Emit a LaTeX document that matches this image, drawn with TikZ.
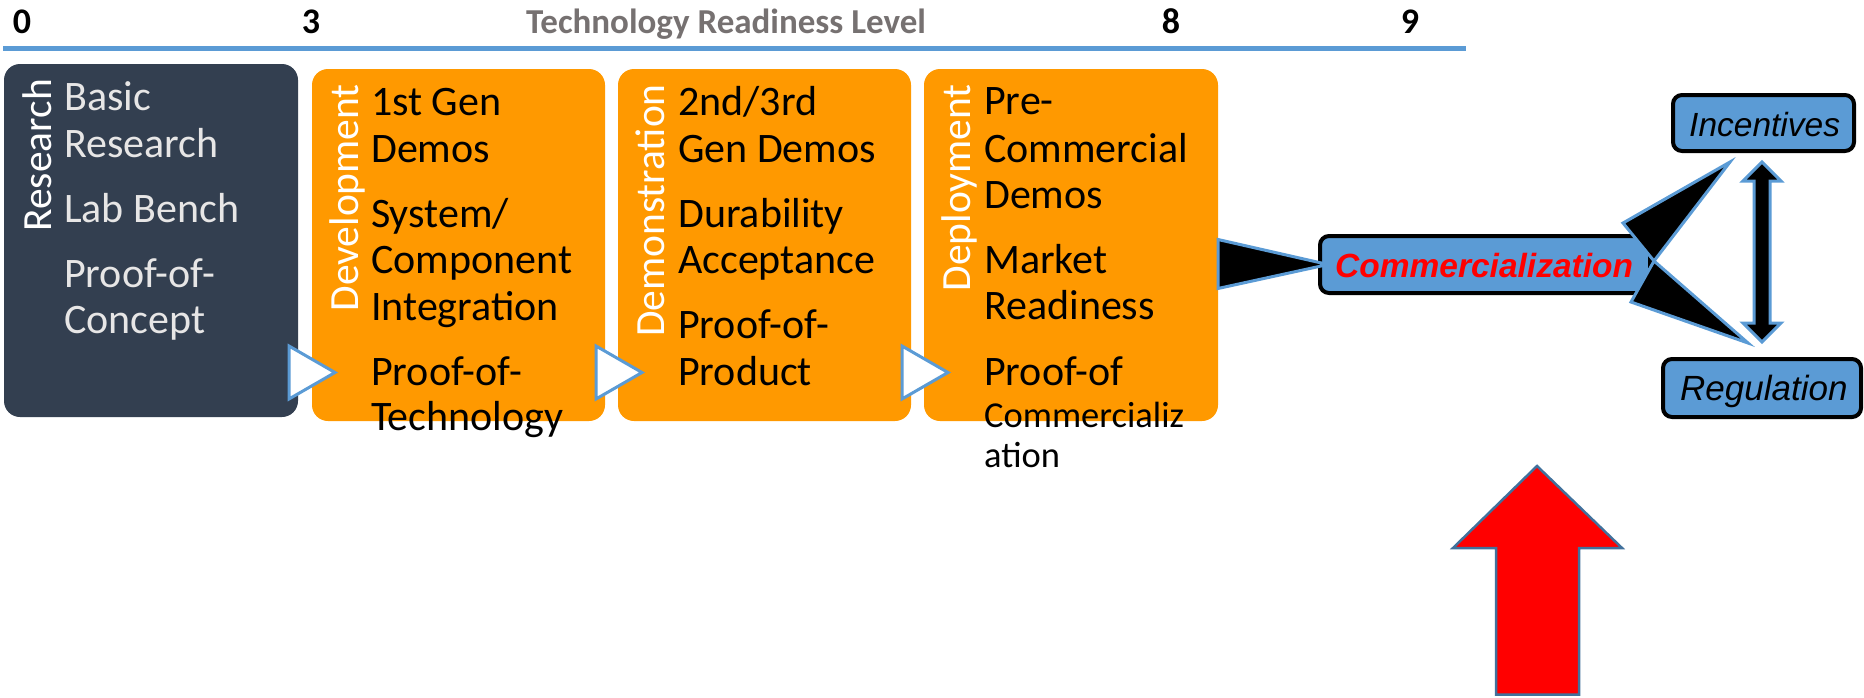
\documentclass[tikz,border=0pt]{standalone}
\usepackage{fontspec}
\setmainfont{Carlito}
\newfontfamily\arialf{Liberation Sans}
\usetikzlibrary{calc}
\definecolor{slate}{RGB}{51,63,80}
\definecolor{orng}{RGB}{255,153,0}
\definecolor{mblue}{RGB}{91,155,213}
\definecolor{tgrey}{RGB}{118,113,113}
\definecolor{ltxt}{RGB}{231,230,230}
\definecolor{arrowedge}{RGB}{65,113,156}
\begin{document}
\begin{tikzpicture}[x=1pt,y=-1pt,
  phase/.style={anchor=north west, inner sep=0pt, outer sep=0pt, rounded corners=16pt, minimum height=352pt},
  lab/.style={rotate=90, anchor=base east, inner sep=0pt, text=white, font=\fontsize{41.5}{47}\selectfont},
  item/.style={anchor=base west, inner sep=0pt, font=\fontsize{42}{47}\selectfont},
  smallitem/.style={anchor=base west, inner sep=0pt, font=\fontsize{36.5}{40}\selectfont},
  tri/.style={fill=white, draw=mblue, line width=3pt, line join=miter},
  blk/.style={fill=black, draw=mblue, line width=3pt, line join=miter},
  bluebox/.style={fill=mblue, draw=black, line width=4pt, rounded corners=9pt, inner sep=0pt, outer sep=0pt, anchor=north west},
  lvl/.style={font=\bfseries\fontsize{36}{40}\selectfont, anchor=base, inner sep=0pt},
  bluetext/.style={anchor=base west, inner sep=0pt}
]
\useasboundingbox (0,0) rectangle (1864,697);

% top scale
\node[lvl] (l0) at (22,33) {0};
\node[lvl] (l3) at (311,33) {3};
\node[lvl] (l8) at (1171,33) {8};
\node[lvl] (l9) at (1410,33) {9};
\node[lvl, text=tgrey, font=\bfseries\fontsize{35}{40}\selectfont] (trl) at (726,33) {Technology Readiness Level};
\draw[mblue, line width=5pt] (3,48) -- (1466,48);

% phase boxes
\node[phase, fill=slate, minimum width=294pt, minimum height=353pt] (research) at (4,64) {};
\node[phase, fill=orng, minimum width=293pt] (develop) at (312,69) {};
\node[phase, fill=orng, minimum width=293pt] (demo) at (618,69) {};
\node[phase, fill=orng, minimum width=294pt] (deploy) at (924,69) {};

% rotated labels
\node[lab] (researchlab) at (51,79) {Research};
\node[lab] (devlab) at (358,84) {Development};
\node[lab] (demolab) at (664,84) {Demonstration};
\node[lab] (deplab) at (970,84) {Deployment};

% research items
\node[item, text=ltxt] (r1) at (64,110) {Basic};
\node[item, text=ltxt] (r2) at (64,157) {Research};
\node[item, text=ltxt] (r3) at (64,222) {Lab Bench};
\node[item, text=ltxt] (r4) at (64,287) {Proof-of-};
\node[item, text=ltxt] (r5) at (64,333) {Concept};

% development items
\node[item] (d1) at (371,115) {1st Gen};
\node[item] (d2) at (371,162) {Demos};
\node[item] (d3) at (371,227) {System/};
\node[item] (d4) at (371,273) {Component};
\node[item] (d5) at (371,320) {Integration};
\node[item] (d6) at (371,385) {Proof-of-};
\node[item] (d7) at (371,430) {Technology};

% demonstration items
\node[item] (m1) at (678,115) {2nd/3rd};
\node[item] (m2) at (678,162) {Gen Demos};
\node[item] (m3) at (678,227) {Durability};
\node[item] (m4) at (678,273) {Acceptance};
\node[item] (m5) at (678,338) {Proof-of-};
\node[item] (m6) at (678,385) {Product};

% deployment items
\node[item] (p1) at (984,114) {Pre-};
\node[item] (p2) at (984,162) {Commercial};
\node[item] (p3) at (984,208) {Demos};
\node[item] (p4) at (984,273) {Market};
\node[item] (p5) at (984,319) {Readiness};
\node[item] (p6) at (984,385) {Proof-of};
\node[smallitem] (p7) at (984,427) {Commercializ};
\node[smallitem] (p8) at (984,467) {ation};

% small chevrons between phases
\draw[tri] ($(research.east |- 0,346)+(-9,0)$) -- ++(0,53) -- ++(46,-26.5) -- cycle;
\draw[tri] ($(develop.east |- 0,346)+(-9,0)$) -- ++(0,53) -- ++(46,-26.5) -- cycle;
\draw[tri] ($(demo.east |- 0,346)+(-9,0)$) -- ++(0,53) -- ++(46,-26.5) -- cycle;

% right-hand boxes
\node[bluebox, minimum width=330pt, minimum height=57pt] (comm) at (1320,236) {};
\node[bluetext, text=red, font=\arialf\bfseries\itshape\fontsize{33.5}{36}\selectfont] (commtext) at (1335,277) {Commercialization};
\node[bluebox, minimum width=181pt, minimum height=56pt] (incentives) at (1673,95) {};
\node[bluetext, font=\arialf\itshape\fontsize{33.5}{36}\selectfont] (inctext) at (1689,136) {Incentives};
\node[bluebox, minimum width=198pt, minimum height=58pt] (regulation) at (1663,359) {};
\node[bluetext, font=\arialf\itshape\fontsize{35}{38}\selectfont] (regtext) at (1680,400) {Regulation};

% deployment -> commercialization
\draw[blk] ($(deploy.east |- comm.west)+(0,-25)$) -- ($(comm.west)+(8,0)$) -- ($(deploy.east |- comm.west)+(0,24)$) -- cycle;

% commercialization -> incentives / regulation
\coordinate (ua) at ($(comm.east)+(-27,-41.5)$);
\coordinate (ub) at ($(comm.east)+(4,-3.5)$);
\coordinate (la) at ($(comm.east)+(-19,37.5)$);
\coordinate (ut) at ($(incentives.south)+(-33.5,11)$);
\coordinate (lt) at ($(regulation.north)+(-14,-16)$);
\draw[blk] (ua) -- (ut) -- (ub) -- cycle;
\draw[blk] (ub) -- (lt) -- (la) -- cycle;

% double arrow incentives <-> regulation
\coordinate (dt) at ($(incentives.south)+(-1.5,11)$);
\coordinate (db) at ($(regulation.north)+(0,-17)$);
\draw[blk] (dt) -- ++(19,19) -- ++(-11,0) -- ($(db)+(8,-19)$) -- ++(11,0) -- (db)
  -- ++(-19,-19) -- ++(11,0) -- ($(dt)+(-8,19)$) -- ++(-11,0) -- cycle;

% red up arrow
\draw[fill=red, draw=arrowedge, line width=2.5pt, line join=miter]
  (1537,466) -- (1622,548) -- (1579,548) -- (1579,694.5) -- (1496,694.5) -- (1496,548) -- (1453,548) -- cycle;
\end{tikzpicture}
\end{document}
